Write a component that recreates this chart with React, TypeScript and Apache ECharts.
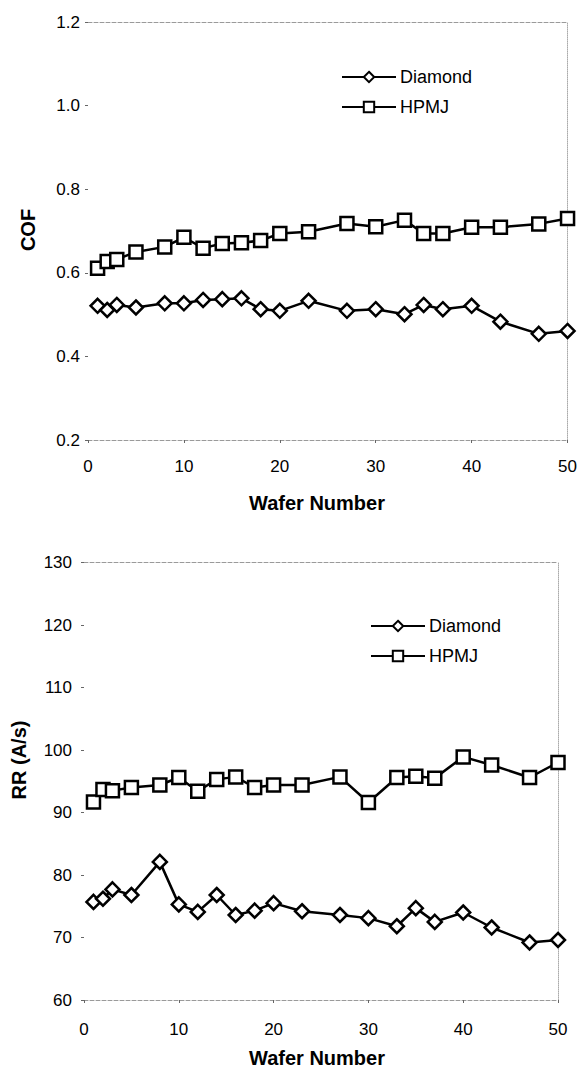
import React, { useEffect, useRef } from "react";
import * as echarts from "echarts";

const waferNumbers = [1, 2, 3, 5, 8, 10, 12, 14, 16, 18, 20, 23, 27, 30, 33, 35, 37, 40, 43, 47, 50];
const cofDiamond = [0.521, 0.511, 0.523, 0.517, 0.527, 0.527, 0.535, 0.537, 0.539, 0.513, 0.509, 0.533, 0.509, 0.513, 0.501, 0.523, 0.513, 0.521, 0.483, 0.454, 0.461];
const cofHPMJ = [0.611, 0.627, 0.632, 0.65, 0.662, 0.685, 0.659, 0.67, 0.672, 0.677, 0.694, 0.698, 0.718, 0.71, 0.726, 0.694, 0.694, 0.709, 0.709, 0.717, 0.73];
const rrDiamond = [75.7, 76.2, 77.7, 76.8, 82.1, 75.3, 74.1, 76.8, 73.6, 74.3, 75.5, 74.2, 73.6, 73.1, 71.8, 74.7, 72.5, 74.0, 71.6, 69.2, 69.6];
const rrHPMJ = [91.7, 93.7, 93.5, 94.0, 94.4, 95.6, 93.4, 95.3, 95.7, 94.0, 94.4, 94.4, 95.7, 91.6, 95.6, 95.8, 95.5, 98.9, 97.6, 95.6, 98.0];
const seriesNames = ["Diamond", "HPMJ"];
const xTitle = "Wafer Number";
const cofTitle = "COF";
const rrTitle = "RR (A/s)";

const FONT = "Liberation Sans";

export default function App() {
  const ref = useRef<HTMLDivElement>(null);

  useEffect(() => {
    if (!ref.current) return;
    const chart = echarts.init(ref.current, undefined, { renderer: "svg" });
    const pair = (vals: number[]) => waferNumbers.map((x, i) => [x, vals[i]]);
    const frame = { color: "#9a9a9a", width: 1, type: "dashed" as const };

    const baseX = (gridIndex: number, margin: number) => ({
      type: "value",
      gridIndex,
      min: 0,
      max: 50,
      interval: 10,
      axisLine: { show: true, onZero: false, lineStyle: frame },
      axisTick: { show: true, length: 3, inside: false, lineStyle: { color: "#666" } },
      axisLabel: { margin, fontSize: 17, color: "#000", fontFamily: FONT },
      splitLine: { show: false },
    });
    const topX = (gridIndex: number) => ({
      type: "value",
      gridIndex,
      position: "top",
      min: 0,
      max: 50,
      axisLine: { show: true, onZero: false, lineStyle: frame },
      axisTick: { show: false },
      axisLabel: { show: false },
      splitLine: { show: false },
    });
    const leftY = (gridIndex: number, min: number, max: number, interval: number, margin: number, dec: number) => ({
      type: "value",
      gridIndex,
      min,
      max,
      interval,
      axisLine: { show: false, onZero: false },
      axisTick: { show: true, length: 3, lineStyle: { color: "#666" } },
      axisLabel: {
        margin,
        fontSize: 17,
        color: "#000",
        fontFamily: FONT,
        formatter: (v: number) => v.toFixed(dec),
      },
      splitLine: { show: false },
    });
    const rightY = (gridIndex: number, min: number, max: number) => ({
      type: "value",
      gridIndex,
      position: "right",
      min,
      max,
      axisLine: { show: true, onZero: false, lineStyle: { color: "#aaa", width: 1, type: "dotted" } },
      axisTick: { show: false },
      axisLabel: { show: false },
      splitLine: { show: false },
    });

    const mkSeries = (name: string, vals: number[], idx: number, symbol: string, size: number) => ({
      name,
      type: "line",
      xAxisIndex: idx,
      yAxisIndex: idx,
      data: pair(vals),
      symbol,
      symbolSize: size,
      showSymbol: true,
      lineStyle: { color: "#000", width: 2.5 },
      itemStyle: { color: "#fff", borderColor: "#000", borderWidth: 2.5 },
      emphasis: { disabled: true },
    });

    const legendCommon = {
      data: seriesNames,
      orient: "vertical",
      itemWidth: 54,
      itemHeight: 13,
      itemGap: 12,
      padding: 0,
      selectedMode: false,
      textStyle: { fontSize: 18, color: "#000", fontFamily: FONT, padding: [0, 0, 0, -1] },
    };

    const titleFont = `bold 20px "${FONT}"`;

    chart.setOption({
      animation: false,
      backgroundColor: "#fff",
      textStyle: { fontFamily: FONT },
      grid: [
        { left: 88, top: 22, width: 480, height: 418 },
        { left: 84, top: 562.5, width: 474, height: 437.5 },
      ],
      xAxis: [baseX(0, 18), baseX(1, 21), topX(0), topX(1)],
      yAxis: [
        leftY(0, 0.2, 1.2, 0.2, 8, 1),
        leftY(1, 60, 130, 10, 12, 0),
        rightY(0, 0.2, 1.2),
        rightY(1, 60, 130),
      ],
      legend: [
        { ...legendCommon, left: 341, top: 68 },
        { ...legendCommon, left: 370, top: 617 },
      ],
      series: [
        mkSeries(seriesNames[0], cofDiamond, 0, "diamond", 14),
        mkSeries(seriesNames[1], cofHPMJ, 0, "rect", 13),
        mkSeries(seriesNames[0], rrDiamond, 1, "diamond", 14),
        mkSeries(seriesNames[1], rrHPMJ, 1, "rect", 13),
      ],
      graphic: [
        { type: "text", x: 317, y: 503, style: { text: xTitle, font: titleFont, fill: "#000", align: "center", verticalAlign: "middle" } },
        { type: "text", x: 317, y: 1058, style: { text: xTitle, font: titleFont, fill: "#000", align: "center", verticalAlign: "middle" } },
        { type: "text", x: 28, y: 230, rotation: Math.PI / 2, style: { text: cofTitle, font: titleFont, fill: "#000", align: "center", verticalAlign: "middle" } },
        { type: "text", x: 19, y: 760, rotation: Math.PI / 2, style: { text: rrTitle, font: titleFont, fill: "#000", align: "center", verticalAlign: "middle" } },
      ],
    });
    return () => chart.dispose();
  }, []);

  return (
    <div
      ref={ref}
      style={{ position: "fixed", left: 0, top: 0, width: 580, height: 1079, background: "#fff" }}
    />
  );
}
